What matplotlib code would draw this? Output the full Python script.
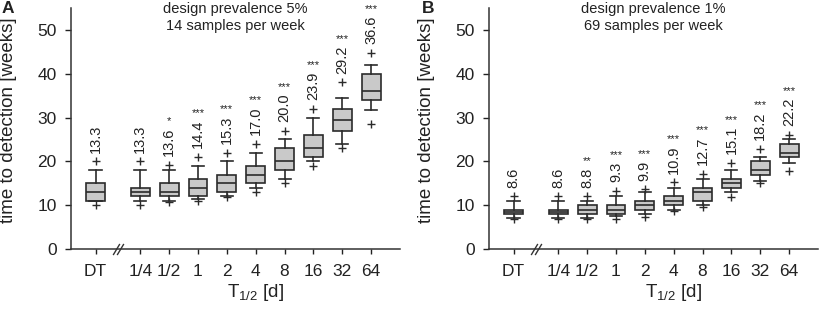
import matplotlib
matplotlib.use("Agg")
import matplotlib.pyplot as plt
from matplotlib.path import Path

plt.rcParams['font.family'] = ['Liberation Sans', 'DejaVu Sans']
plt.rcParams['mathtext.fontset'] = 'custom'
plt.rcParams['mathtext.rm'] = 'Liberation Sans'
plt.rcParams['mathtext.it'] = 'Liberation Sans:italic'

categories = ['DT', '1/4', '1/2', '1', '2', '4', '8', '16', '32', '64']

# Panel A: design prevalence 5%, 14 samples per week
a_q1 = [11, 12, 12, 12, 13, 15, 18, 21, 27, 34]
a_med = [13, 13, 13, 14, 15, 17, 20, 23, 29.5, 36]
a_q3 = [15, 14, 15, 16, 17, 19, 23, 26, 32, 40]
a_lo = [11, 11, 11, 11.5, 12, 14, 16, 20, 24, 31.7]
a_hi = [18, 18, 18, 19, 20, 22, 25, 30, 34.5, 42]
a_fl_lo = [10, 10, 10.8, 11, 11.8, 13, 15, 19, 23, 28.5]
a_fl_hi = [20, 20, 19.2, 21, 22, 24, 27, 32, 38, 44.8]
a_mean = ['13.3', '13.3', '13.6', '14.4', '15.3', '17.0', '20.0', '23.9', '29.2', '36.6']
a_sig = ['', '', '*', '***', '***', '***', '***', '***', '***', '***']

# Panel B: design prevalence 1%, 69 samples per week
b_q1 = [8, 8, 8, 8, 9, 10, 11, 14, 17, 21]
b_med = [8.5, 8.5, 9, 9, 10, 11, 13, 15, 18, 22]
b_q3 = [9, 9, 10, 10, 11, 12, 14, 16, 20, 24]
b_lo = [7, 7, 7, 7.5, 8, 9, 10, 13, 15.6, 19.6]
b_hi = [11, 11, 11, 12, 13, 14, 16, 18, 21, 25]
b_fl_lo = [6.8, 6.8, 6.8, 6.8, 7.4, 8.6, 9.6, 11.8, 15, 17.8]
b_fl_hi = [12, 12, 12, 13.3, 13.6, 15.2, 17.2, 19.6, 22.9, 26]
b_mean = ['8.6', '8.6', '8.8', '9.3', '9.9', '10.9', '12.7', '15.1', '18.2', '22.2']
b_sig = ['', '', '**', '***', '***', '***', '***', '***', '***', '***']

titles = ['design prevalence 5%\n14 samples per week',
          'design prevalence 1%\n69 samples per week']
letters = ['A', 'B']

positions = [0] + [1.55 + i for i in range(9)]
xlim = (-0.85, 10.55)
edge = '#2b2b2b'
face = '#c9c9c9'

fig = plt.figure(figsize=(8.21, 3.10), dpi=100)
axA = fig.add_axes([71 / 821, 61 / 310, 329 / 821, 241 / 310])
axB = fig.add_axes([489 / 821, 61 / 310, 329 / 821, 241 / 310])

panels = [
    (axA, a_q1, a_med, a_q3, a_lo, a_hi, a_fl_lo, a_fl_hi, a_mean, a_sig),
    (axB, b_q1, b_med, b_q3, b_lo, b_hi, b_fl_lo, b_fl_hi, b_mean, b_sig),
]

slash = Path([(-0.6, -1.0), (0.6, 1.0)], [Path.MOVETO, Path.LINETO])

for k, (ax, q1, med, q3, lo, hi, fl_lo, fl_hi, mean, sig) in enumerate(panels):
    stats = []
    for i in range(len(categories)):
        stats.append(dict(med=med[i], q1=q1[i], q3=q3[i], whislo=lo[i], whishi=hi[i],
                          fliers=[fl_lo[i], fl_hi[i]], label=categories[i]))
    ax.bxp(stats, positions=positions, widths=0.65, patch_artist=True,
           capwidths=0.42,
           boxprops=dict(facecolor=face, edgecolor=edge, linewidth=1.2),
           medianprops=dict(color=edge, linewidth=1.2),
           whiskerprops=dict(color=edge, linewidth=1.2),
           capprops=dict(color=edge, linewidth=1.2),
           flierprops=dict(marker='+', markeredgecolor=edge, markersize=6,
                           markeredgewidth=1.0, linestyle='none'))

    for i in range(len(categories)):
        top = max(hi[i], fl_hi[i])
        t = ax.text(positions[i], top + 2.0, mean[i], rotation=90, ha='center',
                    va='bottom', fontsize=10.5, color='#222222')
        if sig[i]:
            ax.annotate(sig[i], xy=(0.5, 1.0), xycoords=t, xytext=(0, 1.0),
                        textcoords='offset points', ha='center', va='bottom',
                        fontsize=8, color='#222222')

    ax.set_xlim(*xlim)
    ax.set_ylim(0, 55)
    ax.set_yticks([0, 10, 20, 30, 40, 50])
    ax.set_xticks(positions)
    ax.set_xticklabels(categories)
    for s in ['top', 'right']:
        ax.spines[s].set_visible(False)
    for s in ['left', 'bottom']:
        ax.spines[s].set_linewidth(1.1)
        ax.spines[s].set_color('#333333')
    ax.tick_params(axis='y', direction='out', length=4.3, width=1.0, pad=6,
                   labelsize=12.5, colors='#222222')
    ax.tick_params(axis='x', direction='out', length=3.6, width=1.0, pad=7.5,
                   labelsize=12.5, colors='#222222')
    ax.set_ylabel('time to detection [weeks]', fontsize=13.5, color='#222222')
    ax.yaxis.set_label_coords(-0.164, 0.535)
    ax.set_xlabel(r'T$_{\mathregular{1/2}}$ [d]', fontsize=13.5, color='#222222')
    xc = ((positions[1] + positions[-1]) / 2 - xlim[0]) / (xlim[1] - xlim[0])
    ax.xaxis.set_label_coords(xc, -0.135)

    # axis break marker
    bx = (positions[0] + positions[1]) / 2
    ax.plot([bx - 0.07, bx + 0.07], [0, 0], linestyle='none', marker=slash,
            markersize=8, markeredgewidth=1.0, markeredgecolor='#333333',
            clip_on=False, zorder=5)

    ax.text(0.5, 0.962, titles[k], transform=ax.transAxes, ha='center', va='center',
            fontsize=10.5, color='#222222', linespacing=1.3)

fig.text(2 / 821, 1 - 1 / 310, 'A', ha='left', va='top', fontsize=12.5,
         fontweight='bold', color='#222222')
fig.text(422 / 821, 1 - 1 / 310, 'B', ha='left', va='top', fontsize=12.5,
         fontweight='bold', color='#222222')

fig.savefig('out.png', dpi=100)
